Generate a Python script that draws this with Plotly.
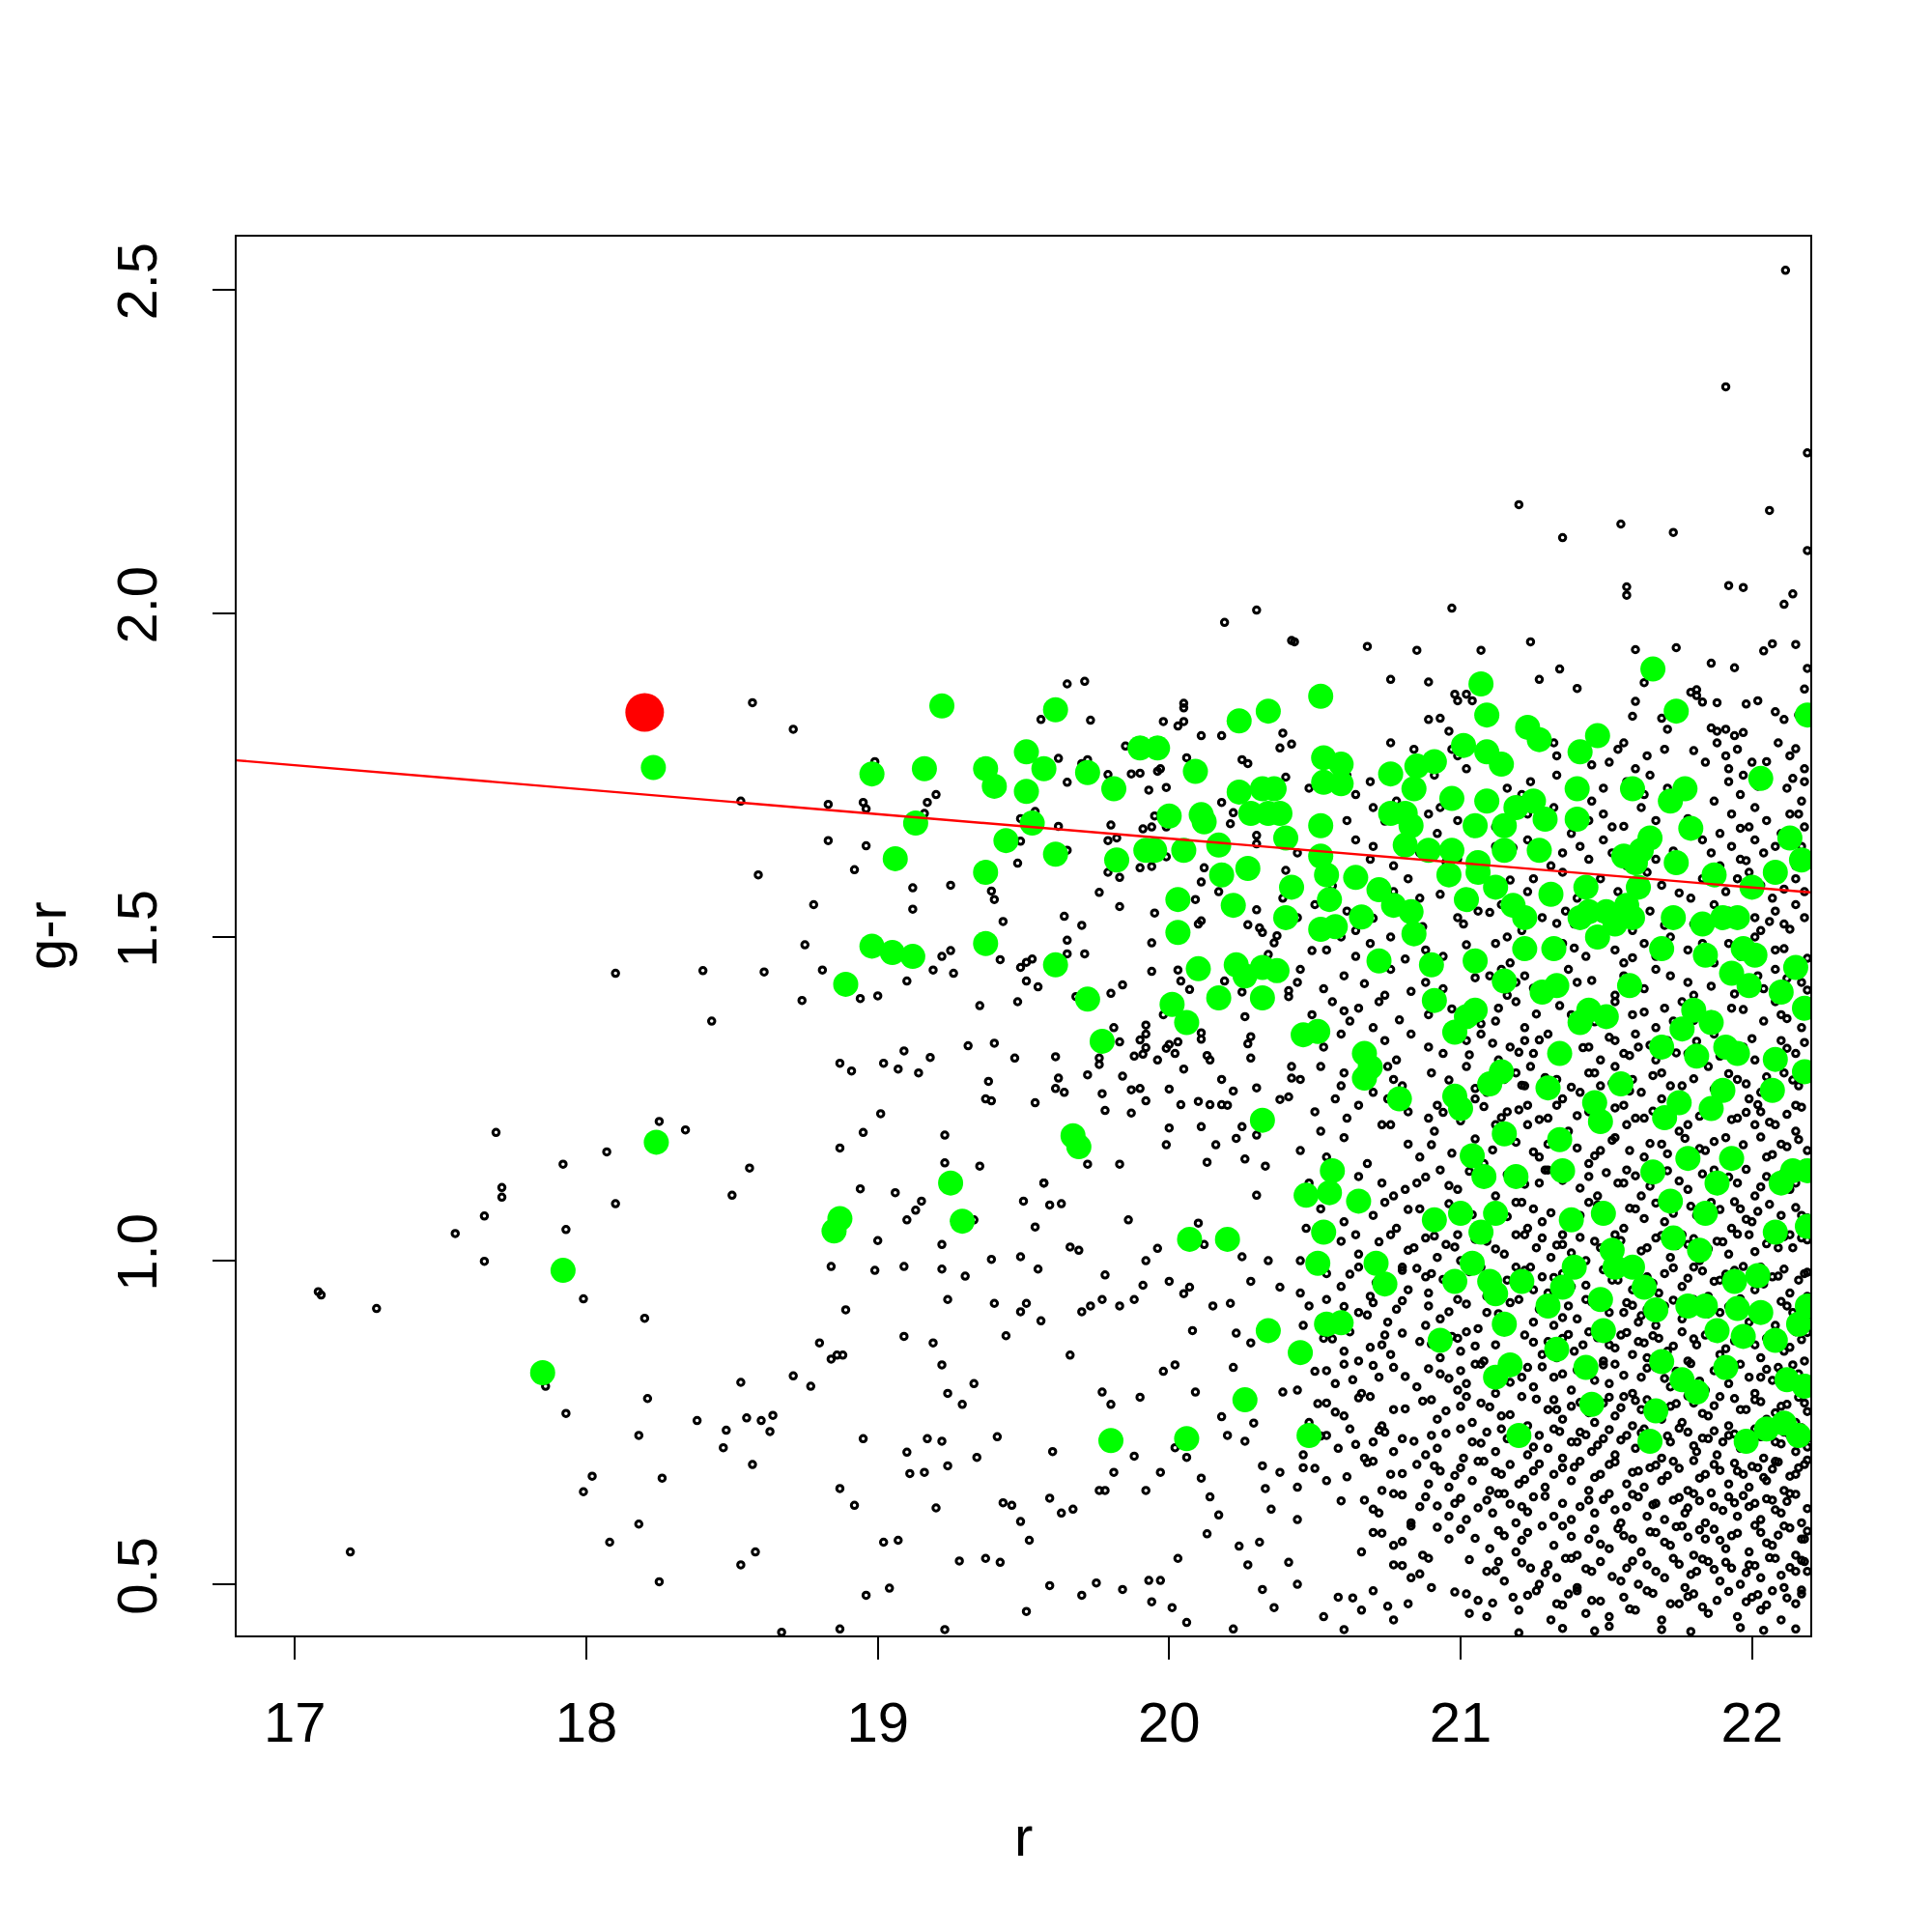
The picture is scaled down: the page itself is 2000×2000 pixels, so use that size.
import plotly.graph_objects as go

# ---------------- data ----------------
x_ticks = [17, 18, 19, 20, 21, 22]
y_ticks = [0.5, 1.0, 1.5, 2.0, 2.5]
y_tick_text = ["0.5", "1.0", "1.5", "2.0", "2.5"]

red_r = [18.20]
red_gr = [1.847]

fit_r = [16.8, 22.2]
fit_gr = [1.773, 1.569]

green_pts = [
(18.23,1.762),(18.24,1.183),(17.92,0.985),(17.85,0.827),
(18.98,1.752),(18.89,1.427),(18.98,1.486),(19.06,1.621),(19.05,1.476),(19.12,1.47),(19.13,1.676),(19.16,1.76),(19.22,1.857),(18.85,1.046),(18.87,1.065),(19.25,1.12),(19.29,1.061),
(19.37,1.76),(19.40,1.733),(19.37,1.60),(19.37,1.49),(19.44,1.649),(19.51,1.725),(19.51,1.786),(19.53,1.676),(19.57,1.76),(19.61,1.851),(19.61,1.628),(19.61,1.457),(19.67,1.193),(19.69,1.176),(19.72,1.754),(19.72,1.404),(19.77,1.339),(19.80,0.722),(19.81,1.729),(19.82,1.619),
(19.90,1.792),(19.96,1.792),(19.92,1.634),(19.95,1.634),(20.00,1.687),(20.03,1.558),(20.03,1.507),(20.01,1.396),(20.05,1.634),(20.06,1.368),(20.07,1.033),(20.06,0.725),(20.09,1.756),(20.10,1.451),(20.11,1.689),(20.12,1.678),(20.17,1.642),(20.18,1.596),(20.17,1.406),(20.20,1.033),(20.22,1.549),(20.24,1.834),(20.24,1.724),(20.23,1.457),(20.26,0.785),(20.27,1.606),(20.28,1.691),(20.26,1.44),(20.32,1.453),(20.37,1.448),(20.32,1.406),(20.32,1.217),(20.32,1.729),(20.34,1.849),(20.34,1.691),(20.36,1.729),(20.34,0.892),(20.38,1.691),(20.40,1.653),(20.40,1.530),(20.42,1.577),
(20.45,0.858),(20.46,1.349),(20.47,1.101),(20.48,0.73),(20.51,1.354),(20.51,0.996),(20.52,1.872),(20.52,1.672),(20.52,1.625),(20.52,1.512),(20.53,1.777),(20.53,1.739),(20.53,1.044),(20.54,1.596),(20.55,1.558),(20.55,1.105),(20.56,1.139),(20.54,0.902),(20.59,0.904),(20.57,1.516),(20.59,1.767),(20.59,1.737),(20.64,1.592),(20.65,1.092),(20.66,1.531),(20.67,1.32),(20.67,1.282),(20.69,1.299),(20.71,0.996),(20.72,1.573),(20.72,1.463),(20.74,0.964),(20.76,1.691),(20.76,1.752),(20.77,1.549),(20.79,1.25),(20.81,1.691),(20.81,1.642),(20.83,1.672),(20.83,1.539),(20.84,1.505),(20.84,1.729),(20.85,1.764),(20.89,1.634),
(20.90,1.457),(20.91,1.402),(20.91,1.063),(20.93,0.877),(20.91,1.771),(20.97,1.714),(20.97,1.634),(20.96,1.596),(20.98,1.353),(20.98,1.254),(20.98,0.968),(21.00,1.073),(21.00,1.235),(21.01,1.796),(21.02,1.558),(21.02,1.377),(21.04,0.996),(21.04,1.162),(21.05,1.672),(21.05,1.463),(21.05,1.387),(21.06,1.60),(21.06,1.615),(21.07,1.891),(21.07,1.044),(21.08,1.13),(21.09,1.843),(21.09,1.786),(21.09,1.71),(21.10,1.273),(21.10,0.968),(21.12,1.577),(21.12,1.073),(21.12,0.949),(21.12,0.82),(21.14,1.767),(21.14,1.292),(21.15,1.672),(21.15,1.634),(21.15,1.432),(21.15,1.196),(21.15,0.902),(21.17,0.839),(21.18,1.549),(21.19,1.70),(21.19,1.13),(21.20,0.73),(21.21,0.968),(21.22,1.53),(21.22,1.482),(21.23,1.824),(21.25,1.71),(21.27,1.805),(21.27,1.634),(21.28,1.415),(21.29,1.682),(21.30,1.267),(21.30,0.93),(21.31,1.566),(21.32,1.482),(21.33,0.863),(21.33,1.425),(21.34,1.32),(21.34,1.187),(21.35,1.139),(21.35,0.959),(21.38,1.063),(21.39,0.99),(21.40,1.729),(21.40,1.682),(21.41,1.786),(21.41,1.368),(21.41,1.53),(21.43,1.577),(21.43,0.835),(21.44,1.539),(21.44,1.387),(21.45,0.778),(21.46,1.244),(21.47,1.811),(21.47,1.50),(21.48,1.215),(21.48,0.94),(21.49,1.073),(21.49,0.892),(21.50,1.539),(21.50,1.377),(21.52,1.016),(21.53,1.52),(21.53,0.99),(21.55,1.273),(21.56,1.625),(21.57,1.549),(21.58,1.425),(21.59,0.99),(21.59,1.53),(21.59,1.729),(21.60,1.615),(21.61,1.577),(21.62,1.634),(21.63,0.959),(21.65,1.653),(21.66,1.914),(21.66,1.137),(21.67,0.768),(21.67,0.924),(21.65,0.721),(21.69,1.33),(21.69,1.482),(21.69,0.844),(21.70,1.221),(21.72,1.71),(21.72,1.092),(21.73,1.53),(21.73,1.035),(21.74,1.849),(21.74,1.615),(21.75,1.244),(21.76,1.358),(21.76,0.816),(21.77,1.729),(21.78,0.93),(21.78,1.158),(21.79,1.668),(21.80,1.387),(21.81,1.316),(21.81,0.797),(21.82,1.016),(21.83,1.52),(21.84,1.472),(21.84,1.073),(21.84,0.93),(21.86,1.235),(21.86,1.368),(21.87,1.596),(21.88,0.892),(21.88,1.12),(21.90,1.53),(21.90,1.263),(21.91,0.835),(21.91,1.33),(21.93,1.444),(21.93,1.158),(21.94,0.968),(21.95,1.32),(21.95,1.53),(21.95,0.926),(21.97,1.482),(21.97,0.883),(21.98,0.721),(21.99,1.425),(22.00,1.577),(22.01,1.472),(22.02,0.977),(22.03,0.92),(22.03,1.745),(22.05,0.74),(22.07,1.263),(22.08,1.311),(22.08,1.044),(22.08,0.877),(22.08,1.60),(22.10,1.415),(22.10,1.12),(22.11,0.749),(22.12,0.816),(22.13,1.653),(22.14,1.139),(22.15,1.453),(22.16,0.902),(22.16,0.73),(22.17,1.619),(22.18,1.39),(22.18,1.292),(22.18,0.806),(22.19,1.843),(22.19,1.139),(22.19,1.053),(22.19,0.93),
]

black_left = [
(17.08,0.952),(17.09,0.947),(17.19,0.55),(17.28,0.926),(17.55,1.042),(17.65,0.999),(17.65,1.069),(17.69,1.198),(17.71,1.113),(17.71,1.098),(17.92,1.149),(17.93,1.048),(17.93,0.764),(17.86,0.806),(17.99,0.941),(17.99,0.643),(18.02,0.667),(18.07,1.168),(18.08,0.565),(18.10,1.444),(18.10,1.088),(18.18,0.593),(18.18,0.73),(18.20,0.911),(18.21,0.787),(18.25,0.504),(18.25,1.215),(18.26,0.664),(18.34,1.202),(18.38,0.753),(18.40,1.448),(18.43,1.37),(18.47,0.711),(18.48,0.738),(18.50,1.101),(18.53,1.71),(18.53,0.812),(18.53,0.53),(18.55,0.757),(18.56,1.143),(18.57,1.862),(18.57,0.685),(18.58,0.55),(18.59,1.596),(18.60,0.753),(18.61,1.446),(18.63,0.736),
]

black_mid_low = [
(18.64,0.761),(18.67,0.426),(18.71,0.822),(18.77,0.806),(18.80,0.873),(18.84,0.848),(18.84,0.991),(18.86,0.854),(18.87,0.431),(18.87,0.648),(18.88,0.854),(18.89,0.924),(18.92,0.622),(18.94,1.111),(18.95,0.725),(18.96,0.483),(18.99,0.985),(19.00,1.031),(19.02,0.565),(19.04,0.494),(19.06,1.105),(19.07,0.568),(19.09,0.991),(19.09,0.883),(19.10,1.063),(19.10,0.704),(19.11,0.671),(19.13,1.078),(19.15,1.092),(19.16,0.673),(19.17,0.725),(19.19,0.873),(19.20,0.618),(19.22,1.025),(19.22,0.987),(19.22,0.839),(19.22,0.721),(19.23,0.430),(19.24,0.940),(19.24,0.795),(19.24,0.683),(19.28,0.536),(19.29,0.778),(19.30,0.976),(19.33,1.063),(19.33,0.810),(19.34,0.696),(19.37,0.540),(19.39,1.002),(19.40,0.934),(19.41,0.728),(19.42,0.534),(19.43,0.626),(19.44,0.884),(19.46,0.622),(19.49,0.597),(19.49,1.006),(19.49,0.921),(19.50,1.092),(19.51,0.934),(19.51,0.458),(19.52,0.568),(19.54,1.052),(19.55,0.987),(19.56,0.907),(19.57,1.12),(19.59,1.086),(19.59,0.498),(19.59,0.633),(19.60,0.705),(19.63,1.088),(19.63,0.610),(19.66,0.854),(19.66,1.021),(19.67,0.616),(19.69,1.016),(19.70,0.921),(19.70,0.483),(19.73,0.930),(19.75,0.502),(19.76,0.645),(19.77,0.797),(19.77,0.94),(19.78,0.645),(19.78,0.978),(19.80,0.778),(19.81,0.673),(19.83,0.930),(19.84,0.492),(19.86,1.063),(19.88,0.940),(19.88,0.698),(19.90,0.789),(19.91,0.962),(19.92,0.645),(19.92,1.0),(19.93,0.506),(19.94,0.473),(19.96,1.019),(19.97,0.673),(19.97,0.506),(19.98,0.829),(20.00,0.968),(20.01,0.464),(20.02,0.711),(20.02,0.839),(20.03,0.54),(20.05,0.949),(20.06,0.696),(20.06,0.441),(20.07,0.959),(20.08,0.892),(20.09,0.797),(20.10,1.058),(20.11,0.664),(20.12,1.025),(20.13,0.578),(20.14,0.635),(20.15,0.930),(20.17,0.607),(20.18,0.759),(20.20,0.730),(20.21,0.934),(20.22,0.431),(20.22,0.835),(20.23,0.888),(20.24,0.559),(20.25,1.006),(20.26,0.721),(20.27,0.530),(20.28,0.968),(20.28,0.873),(20.29,0.749),(20.30,1.101),(20.31,0.565),(20.32,0.492),(20.32,0.683),(20.33,0.648),(20.34,1.0),(20.35,0.616),(20.36,0.464),(20.38,0.959),(20.38,0.673),(20.39,0.797),(20.41,0.534),
]

black_mid_high = [
(18.71,1.821),(19.56,1.836),(19.73,1.835),(19.98,1.833),(20.03,1.826),(20.05,1.833),(20.05,1.854),(20.11,1.811),(20.18,1.811),(20.39,1.815),(20.38,1.792),(20.42,1.798),(19.85,1.795),(19.62,1.776),(19.70,1.768),(19.72,1.774),(19.79,1.751),(19.87,1.752),(19.90,1.753),(19.96,1.756),(19.97,1.760),(20.06,1.777),(20.25,1.774),(20.27,1.768),(20.40,1.747),(19.93,1.727),(19.99,1.731),(19.65,1.739),(18.99,1.771),(18.83,1.705),(18.95,1.708),(18.96,1.698),(19.17,1.708),(19.20,1.720),(19.16,1.691),(19.49,1.683),(19.54,1.694),(19.62,1.671),(19.80,1.673),(19.91,1.667),(19.94,1.670),(19.95,1.687),(19.99,1.670),(20.18,1.708),(20.22,1.692),(20.21,1.675),(20.30,1.657),(20.30,1.644),(19.79,1.649),(19.82,1.653),(19.49,1.648),(19.65,1.634),(18.83,1.649),(18.96,1.641),(19.99,1.624),(19.90,1.607),(19.94,1.609),(19.79,1.600),(19.83,1.592),(20.12,1.607),(20.11,1.585),(20.17,1.570),(20.40,1.603),(20.42,1.588),(19.48,1.614),(18.92,1.604),(19.12,1.576),(19.25,1.580),(19.39,1.571),(19.40,1.558),(19.76,1.569),(19.83,1.547),(20.09,1.558),(20.39,1.560),(18.78,1.550),(19.12,1.543),(19.43,1.524),(19.64,1.532),(19.70,1.518),(19.95,1.537),(20.10,1.520),(20.11,1.525),(20.27,1.519),(20.30,1.542),(20.31,1.514),(20.32,1.507),(20.37,1.502),(20.36,1.491),(19.94,1.491),(19.65,1.495),(18.75,1.488),(19.25,1.479),(19.22,1.470),(19.42,1.465),(19.49,1.453),(19.51,1.461),(19.53,1.466),(19.65,1.474),(19.71,1.474),(20.34,1.473),(18.81,1.449),(19.19,1.449),(19.26,1.444),(19.10,1.432),(19.51,1.432),(19.55,1.423),(19.84,1.426),(19.80,1.413),(19.94,1.447),(20.03,1.449),(20.04,1.432),(20.07,1.419),(20.19,1.432),(20.25,1.415),(20.41,1.417),(20.41,1.408),(18.74,1.402),(18.94,1.405),(19.00,1.409),(19.35,1.394),(19.48,1.400),(19.68,1.408),(20.26,1.377),(19.98,1.380),(19.81,1.360),(19.92,1.364),(19.92,1.350),(19.90,1.341),(19.83,1.338),(20.00,1.334),(19.99,1.328),(20.03,1.338),(20.02,1.320),(19.92,1.329),(19.91,1.319),(19.88,1.316),(19.96,1.310),(20.05,1.296),(20.11,1.352),(20.11,1.342),(20.13,1.317),(20.14,1.310),(20.28,1.346),(20.27,1.335),(20.28,1.313),(20.42,1.300),(20.42,1.282),(18.87,1.305),(18.91,1.293),(19.02,1.305),(19.07,1.296),(19.09,1.324),(19.14,1.290),(19.18,1.314),(19.31,1.332),(19.40,1.336),(19.47,1.313),(19.61,1.315),(19.76,1.313),(19.76,1.303),(19.72,1.287),(19.84,1.285),(19.62,1.282),(19.61,1.266),(19.64,1.260),(19.38,1.277),(19.37,1.250),(19.39,1.247),(19.54,1.244),(19.77,1.258),(19.78,1.232),(19.87,1.228),(19.87,1.264),(19.90,1.266),(19.92,1.247),(20.00,1.265),(20.04,1.241),(20.10,1.246),(20.14,1.241),(20.18,1.241),(20.20,1.240),(20.18,1.280),(20.22,1.262),(20.30,1.267),(20.38,1.249),(20.41,1.253),(19.01,1.227),(18.95,1.198),(18.87,1.174),(19.23,1.194),(19.23,1.151),(19.35,1.146),(19.72,1.149),(19.83,1.149),(19.99,1.179),(20.00,1.205),(20.11,1.207),(20.16,1.179),(20.23,1.189),(20.25,1.207),(20.30,1.194),(20.26,1.157),(20.33,1.146),(20.13,1.152),(19.57,1.12),
]

black_top = [
(19.65,1.891),(19.71,1.895),(20.19,1.986),(20.30,2.005),(20.42,1.958),(20.05,1.861),
(22.115,2.530),(21.91,2.350),(22.19,2.248),(21.20,2.168),(21.35,2.117),(21.55,2.138),(21.73,2.125),(22.06,2.159),(22.19,2.097),(20.97,2.008),(21.57,2.041),(21.57,2.028),(21.92,2.043),(21.97,2.040),(22.14,2.030),(22.11,2.014),(20.43,1.956),(20.68,1.949),(20.85,1.943),(21.07,1.943),(21.24,1.956),(21.60,1.944),(21.74,1.947),(22.04,1.942),(22.07,1.953),(22.15,1.952),(21.86,1.923),(21.94,1.916),(22.19,1.915),(20.76,1.898),(20.89,1.894),(21.27,1.898),(21.34,1.914),(21.40,1.884),(21.63,1.893),(22.18,1.883),(20.98,1.875),(21.02,1.875),(20.99,1.865),(21.04,1.865),(21.79,1.878),(21.81,1.882),(21.81,1.873),(21.60,1.864),(21.83,1.863),(21.88,1.862),(21.98,1.860),(22.02,1.865),
]

black_dense_high = [
(20.89,1.836),(20.93,1.838),(20.96,1.818),(21.59,1.841),(21.69,1.838),(21.71,1.821),(21.86,1.823),(21.88,1.818),(21.91,1.821),(21.94,1.811),(21.97,1.816),(22.08,1.848),(22.11,1.836),(22.16,1.843),(22.19,1.836),
(20.76,1.80),(20.84,1.79),(20.86,1.77),(20.97,1.79),(20.99,1.78),(21.02,1.76),(21.32,1.80),(21.33,1.78),(21.51,1.77),(21.54,1.79),(21.56,1.80),(21.60,1.76),(21.64,1.78),(21.70,1.79),(21.84,1.77),(21.88,1.80),(21.91,1.78),(21.92,1.76),(21.95,1.79),(22.00,1.77),(22.09,1.80),(22.13,1.78),(22.18,1.76),
(20.48,1.73),(20.61,1.75),(20.64,1.72),(20.69,1.74),(20.78,1.71),(20.91,1.75),(21.16,1.73),(21.21,1.72),(21.24,1.74),(21.33,1.75),(21.45,1.71),(21.49,1.73),(21.57,1.74),(21.63,1.72),(21.65,1.75),(21.71,1.73),(21.87,1.71),(21.92,1.74),(21.96,1.72),(21.97,1.75),(22.12,1.73),(22.17,1.71),(22.18,1.74),
(20.61,1.68),(20.70,1.70),(20.81,1.67),(20.89,1.69),(20.92,1.66),(20.93,1.70),(20.99,1.68),(21.12,1.67),(21.23,1.69),(21.32,1.70),(21.38,1.66),(21.44,1.68),(21.49,1.69),(21.52,1.67),(21.62,1.70),(21.67,1.68),(21.89,1.66),(21.93,1.69),(21.99,1.67),(22.01,1.70),(22.05,1.68),(22.10,1.66),(22.13,1.69),(22.18,1.67),
(20.44,1.63),(20.64,1.65),(20.69,1.62),(20.70,1.64),(20.77,1.61),(20.83,1.65),(20.86,1.63),(20.99,1.62),(21.12,1.64),(21.23,1.65),(21.31,1.61),(21.35,1.63),(21.41,1.64),(21.44,1.62),(21.49,1.65),(21.52,1.63),(21.57,1.61),(21.64,1.64),(21.67,1.62),(21.83,1.65),(21.86,1.63),(21.89,1.61),(21.93,1.64),(21.96,1.62),(22.01,1.65),(22.04,1.63),(22.15,1.61),(22.17,1.64),
(20.43,1.58),(20.65,1.60),(20.77,1.57),(20.82,1.59),(20.86,1.56),(21.04,1.60),(21.12,1.58),(21.23,1.57),(21.25,1.59),(21.35,1.60),(21.40,1.56),(21.44,1.58),(21.48,1.59),(21.54,1.57),(21.64,1.60),(21.69,1.58),(21.79,1.56),(21.83,1.59),(21.91,1.57),(21.99,1.60),(22.03,1.58),(22.07,1.56),(22.15,1.59),(22.18,1.57),
(20.44,1.53),(20.50,1.55),(20.57,1.52),(20.61,1.54),(20.64,1.51),(20.76,1.55),(20.99,1.53),(21.01,1.52),(21.06,1.54),(21.14,1.55),(21.21,1.51),(21.28,1.53),(21.36,1.54),(21.39,1.52),(21.43,1.55),(21.48,1.53),(21.59,1.51),(21.65,1.54),(21.80,1.52),(21.87,1.55),(22.01,1.53),(22.03,1.51),(22.08,1.54),(22.11,1.52),(22.15,1.55),(22.18,1.53),
(20.54,1.48),(20.59,1.50),(20.64,1.47),(20.69,1.49),(20.73,1.46),(20.76,1.50),(20.88,1.48),(20.94,1.47),(21.12,1.49),(21.16,1.50),(21.17,1.46),(21.30,1.48),(21.35,1.49),(21.43,1.47),(21.49,1.50),(21.53,1.48),(21.56,1.46),(21.63,1.49),(21.67,1.47),(21.72,1.50),(21.78,1.48),(21.87,1.46),(21.92,1.49),(21.96,1.47),(22.01,1.50),(22.08,1.48),(22.15,1.46),
(20.44,1.43),(20.45,1.45),(20.53,1.42),(20.60,1.44),(20.74,1.41),(20.76,1.45),(20.88,1.43),(20.94,1.42),(21.10,1.44),(21.14,1.45),(21.16,1.41),(21.19,1.43),(21.22,1.44),(21.30,1.42),(21.37,1.45),(21.40,1.43),(21.53,1.41),(21.56,1.44),(21.63,1.42),(21.67,1.45),(21.78,1.43),(21.80,1.41),(22.02,1.44),(22.04,1.42),(22.08,1.45),(22.17,1.43),
(20.49,1.38),(20.56,1.40),(20.62,1.37),(20.65,1.39),(20.70,1.36),(20.72,1.40),(20.89,1.38),(21.12,1.37),(21.13,1.39),(21.19,1.40),(21.22,1.36),(21.38,1.38),(21.43,1.39),(21.49,1.37),(21.53,1.40),(21.59,1.38),(21.67,1.36),(21.70,1.39),(21.73,1.37),(21.76,1.40),(21.86,1.38),(21.88,1.36),(21.93,1.39),(22.04,1.37),(22.08,1.40),(22.10,1.38),(22.17,1.36),
(20.53,1.33),(20.59,1.35),(20.67,1.32),(20.74,1.34),(20.78,1.31),(20.83,1.35),(20.89,1.33),(20.94,1.32),(21.02,1.34),(21.07,1.35),(21.13,1.31),(21.17,1.33),(21.22,1.34),(21.25,1.32),(21.30,1.35),(21.44,1.33),(21.48,1.31),(21.53,1.34),(21.56,1.32),(21.60,1.35),(21.61,1.33),(21.67,1.31),(21.71,1.34),(21.78,1.32),(21.87,1.35),(21.97,1.33),(22.01,1.31),(22.10,1.34),(22.15,1.32),
(20.45,1.28),(20.52,1.30),(20.59,1.27),(20.60,1.29),(20.70,1.26),(20.75,1.30),(20.77,1.28),(20.80,1.27),(20.90,1.29),(21.02,1.30),(21.09,1.26),(21.15,1.28),(21.19,1.29),(21.22,1.27),(21.24,1.30),(21.33,1.28),(21.41,1.26),(21.44,1.29),(21.48,1.27),(21.53,1.30),(21.59,1.28),(21.62,1.26),(21.69,1.29),(21.76,1.27),(21.85,1.30),(21.95,1.28),(22.03,1.26),(22.11,1.29),(22.16,1.27),
(20.50,1.23),(20.57,1.25),(20.61,1.22),(20.65,1.24),(20.73,1.21),(20.75,1.25),(20.82,1.23),(20.89,1.22),(20.92,1.24),(21.05,1.25),(21.12,1.21),(21.16,1.23),(21.23,1.24),(21.30,1.22),(21.35,1.25),(21.44,1.23),(21.49,1.21),(21.56,1.24),(21.63,1.22),(21.69,1.25),(21.73,1.23),(21.78,1.21),(21.85,1.24),(21.95,1.22),(21.99,1.25),(22.03,1.23),(22.08,1.21),(22.15,1.24),
(20.45,1.17),(20.52,1.20),(20.54,1.16),(20.60,1.19),(20.68,1.15),(20.76,1.21),(20.82,1.18),(20.86,1.16),(20.91,1.20),(21.02,1.17),(21.08,1.15),(21.15,1.19),(21.23,1.21),(21.27,1.16),(21.30,1.18),(21.37,1.20),(21.44,1.15),(21.48,1.17),(21.53,1.19),(21.57,1.21),(21.63,1.16),(21.69,1.18),(21.75,1.20),(21.79,1.15),(21.84,1.17),(21.91,1.19),(22.01,1.21),(22.05,1.16),(22.10,1.18),(22.15,1.20),(22.18,1.15),
(20.60,1.386),(20.79,1.372),(20.97,1.389),(21.07,1.366),(21.26,1.381),(21.34,1.394),(21.46,1.369),(21.63,1.384),(21.80,1.371),(21.97,1.388),(22.12,1.374),(22.19,1.392),
(20.67,1.428),(20.83,1.416),(21.05,1.437),(21.25,1.421),(21.45,1.433),(21.60,1.419),(21.72,1.440),(21.86,1.424),(21.94,1.412),(22.12,1.436),(22.19,1.418),
(20.49,1.479),(20.81,1.466),(21.02,1.488),(21.21,1.471),(21.39,1.483),(21.59,1.468),(21.83,1.490),(21.99,1.474),(22.11,1.482),(22.19,1.467),
(20.70,1.529),(20.87,1.516),(21.10,1.538),(21.33,1.521),(21.55,1.533),(21.70,1.518),(21.92,1.540),(22.06,1.524),(22.13,1.512),
(20.56,1.579),(20.93,1.566),(21.17,1.588),(21.30,1.571),(21.60,1.583),(21.75,1.568),(21.95,1.590),(22.11,1.574),
(20.53,1.629),(20.95,1.616),(21.18,1.638),(21.54,1.621),(21.73,1.633),(21.98,1.618),(22.08,1.640),(22.19,1.624),
(20.74,1.679),(21.05,1.666),(21.28,1.688),(21.56,1.671),(21.78,1.683),(21.96,1.668),(22.16,1.690),
(20.84,1.729),(21.09,1.716),(21.40,1.738),(21.77,1.721),(22.02,1.733),(22.14,1.745),
(21.07,1.779),(21.45,1.766),(21.80,1.788),(22.05,1.771),(22.15,1.791),
]

black_dense_low = [
(20.48,1.12),(20.65,1.13),(20.66,1.10),(20.73,1.12),(20.77,1.10),(20.81,1.11),(20.85,1.12),(20.93,1.14),(20.99,1.11),(21.06,1.13),(21.12,1.10),(21.27,1.12),(21.30,1.14),(21.44,1.13),(21.47,1.10),(21.56,1.12),(21.57,1.14),(21.62,1.10),(21.67,1.13),(21.78,1.11),(21.87,1.14),(21.95,1.12),(22.01,1.10),(22.05,1.13),(22.13,1.11),(22.17,1.14),
(20.47,1.05),(20.52,1.08),(20.60,1.06),(20.64,1.04),(20.70,1.07),(20.74,1.09),(20.78,1.05),(20.86,1.08),(20.93,1.06),(20.99,1.04),(21.10,1.07),(21.19,1.09),(21.23,1.05),(21.25,1.08),(21.28,1.06),(21.35,1.04),(21.41,1.07),(21.44,1.09),(21.56,1.05),(21.60,1.08),(21.70,1.06),(21.76,1.04),(21.81,1.07),(21.86,1.09),(21.93,1.05),(21.96,1.08),(22.00,1.06),(22.13,1.04),(22.17,1.07),
(20.45,1.00),(20.59,1.03),(20.65,1.01),(20.76,1.04),(20.80,0.99),(20.84,1.02),(20.88,1.035),(20.92,1.005),(20.95,1.025),(21.00,1.00),(21.09,1.03),(21.15,1.01),(21.19,1.04),(21.24,0.99),(21.26,1.02),(21.28,1.035),(21.31,1.005),(21.35,1.025),(21.43,1.00),(21.46,1.03),(21.51,1.01),(21.53,1.04),(21.59,0.99),(21.64,1.02),(21.67,1.035),(21.72,1.005),(21.78,1.025),(21.82,1.00),(21.88,1.03),(21.92,1.01),(21.99,1.04),(22.03,0.99),(22.09,1.02),(22.17,1.035),
(20.45,0.95),(20.54,0.98),(20.59,0.96),(20.65,0.99),(20.69,0.945),(20.74,0.97),(20.80,0.985),(20.82,0.955),(20.88,0.975),(20.89,0.95),(20.90,0.98),(20.99,0.96),(21.07,0.99),(21.09,0.945),(21.16,0.97),(21.22,0.985),(21.25,0.955),(21.28,0.975),(21.30,0.95),(21.35,0.98),(21.38,0.96),(21.41,0.99),(21.47,0.945),(21.52,0.97),(21.56,0.985),(21.59,0.955),(21.64,0.975),(21.68,0.95),(21.70,0.98),(21.76,0.96),(21.80,0.99),(21.85,0.945),(21.89,0.97),(21.94,0.985),(22.01,0.955),(22.07,0.975),(22.13,0.95),(22.18,0.98),
(20.46,0.90),(20.48,0.93),(20.52,0.91),(20.54,0.94),(20.58,0.895),(20.65,0.92),(20.70,0.935),(20.75,0.905),(20.78,0.925),(20.88,0.90),(20.89,0.93),(20.93,0.91),(20.99,0.94),(21.06,0.895),(21.09,0.92),(21.17,0.935),(21.25,0.905),(21.27,0.925),(21.32,0.90),(21.37,0.93),(21.40,0.91),(21.43,0.94),(21.48,0.895),(21.56,0.92),(21.57,0.935),(21.61,0.905),(21.64,0.925),(21.67,0.90),(21.70,0.93),(21.76,0.91),(21.80,0.94),(21.87,0.895),(21.89,0.92),(21.94,0.935),(21.99,0.905),(22.03,0.925),(22.08,0.90),(22.12,0.93),(22.19,0.91),
(20.44,0.85),(20.53,0.88),(20.60,0.86),(20.62,0.89),(20.65,0.845),(20.73,0.87),(20.74,0.885),(20.76,0.855),(20.86,0.875),(20.93,0.85),(20.99,0.88),(21.00,0.86),(21.02,0.89),(21.08,0.845),(21.12,0.87),(21.22,0.885),(21.28,0.855),(21.30,0.875),(21.33,0.85),(21.35,0.88),(21.39,0.86),(21.44,0.89),(21.49,0.845),(21.51,0.87),(21.55,0.885),(21.59,0.855),(21.61,0.875),(21.64,0.85),(21.68,0.88),(21.71,0.86),(21.76,0.89),(21.78,0.845),(21.81,0.87),(21.84,0.885),(21.89,0.855),(21.97,0.875),(22.03,0.85),(22.05,0.88),(22.11,0.86),(22.15,0.89),(22.18,0.845),
(20.44,0.80),(20.54,0.83),(20.57,0.81),(20.60,0.84),(20.66,0.795),(20.72,0.82),(20.77,0.835),(20.85,0.805),(20.93,0.825),(20.99,0.80),(21.00,0.83),(21.02,0.81),(21.07,0.84),(21.12,0.795),(21.21,0.82),(21.23,0.835),(21.25,0.805),(21.35,0.825),(21.38,0.80),(21.43,0.83),(21.51,0.81),(21.53,0.84),(21.59,0.795),(21.62,0.82),(21.67,0.835),(21.72,0.805),(21.76,0.825),(21.84,0.80),(21.87,0.83),(21.92,0.81),(21.96,0.84),(22.01,0.795),(22.03,0.82),(22.09,0.835),(22.12,0.805),(22.16,0.825),
(20.48,0.75),(20.54,0.78),(20.60,0.76),(20.69,0.79),(20.73,0.745),(20.77,0.77),(20.90,0.785),(20.92,0.755),(21.00,0.775),(21.04,0.75),(21.07,0.78),(21.14,0.76),(21.21,0.79),(21.23,0.745),(21.30,0.77),(21.32,0.785),(21.35,0.755),(21.38,0.775),(21.46,0.75),(21.49,0.78),(21.53,0.76),(21.56,0.79),(21.59,0.745),(21.62,0.77),(21.64,0.785),(21.69,0.755),(21.72,0.775),(21.76,0.75),(21.80,0.78),(21.85,0.76),(21.89,0.79),(21.92,0.745),(21.96,0.77),(22.01,0.785),(22.05,0.755),(22.10,0.775),(22.15,0.75),(22.18,0.78),
(20.46,0.70),(20.54,0.73),(20.58,0.71),(20.62,0.74),(20.67,0.695),(20.70,0.72),(20.74,0.735),(20.77,0.705),(20.80,0.725),(20.88,0.70),(20.90,0.73),(20.92,0.71),(21.00,0.74),(21.01,0.695),(21.04,0.72),(21.09,0.735),(21.12,0.705),(21.16,0.725),(21.23,0.70),(21.27,0.73),(21.30,0.71),(21.32,0.74),(21.35,0.695),(21.38,0.72),(21.41,0.735),(21.45,0.705),(21.49,0.725),(21.53,0.70),(21.57,0.73),(21.60,0.71),(21.63,0.74),(21.69,0.695),(21.72,0.72),(21.78,0.735),(21.81,0.705),(21.85,0.725),(21.88,0.70),(21.92,0.73),(21.96,0.71),(22.01,0.74),(22.04,0.695),(22.08,0.72),(22.11,0.735),(22.15,0.705),(22.19,0.725),
(20.44,0.65),(20.46,0.68),(20.54,0.66),(20.70,0.69),(20.73,0.645),(20.76,0.67),(20.85,0.685),(20.89,0.655),(20.93,0.675),(20.96,0.65),(21.00,0.68),(21.04,0.66),(21.06,0.69),(21.10,0.645),(21.14,0.67),(21.17,0.685),(21.20,0.655),(21.25,0.675),(21.29,0.65),(21.35,0.68),(21.38,0.66),(21.41,0.69),(21.44,0.645),(21.48,0.67),(21.51,0.685),(21.57,0.655),(21.61,0.675),(21.63,0.65),(21.65,0.68),(21.69,0.66),(21.73,0.69),(21.78,0.645),(21.84,0.67),(21.87,0.685),(21.92,0.655),(21.95,0.675),(21.99,0.65),(22.02,0.68),(22.05,0.66),(22.08,0.69),(22.11,0.645),(22.15,0.67),(22.18,0.685),
(20.44,0.60),(20.67,0.63),(20.72,0.61),(20.77,0.64),(20.83,0.595),(20.86,0.62),(20.88,0.635),(20.96,0.605),(20.98,0.625),(21.02,0.60),(21.09,0.63),(21.11,0.61),(21.15,0.64),(21.19,0.595),(21.21,0.62),(21.25,0.635),(21.32,0.605),(21.35,0.625),(21.38,0.60),(21.44,0.63),(21.46,0.61),(21.51,0.64),(21.55,0.595),(21.57,0.62),(21.61,0.635),(21.64,0.605),(21.67,0.625),(21.70,0.60),(21.73,0.63),(21.77,0.61),(21.80,0.64),(21.84,0.595),(21.87,0.62),(21.92,0.635),(21.95,0.605),(22.01,0.625),(22.03,0.60),(22.07,0.63),(22.10,0.61),(22.13,0.64),(22.17,0.595),
(20.66,0.55),(20.70,0.58),(20.77,0.56),(20.83,0.59),(20.87,0.545),(20.96,0.57),(21.00,0.585),(21.10,0.555),(21.15,0.575),(21.19,0.55),(21.23,0.58),(21.32,0.56),(21.35,0.59),(21.40,0.545),(21.44,0.57),(21.46,0.585),(21.51,0.555),(21.56,0.575),(21.62,0.55),(21.67,0.58),(21.72,0.56),(21.76,0.59),(21.80,0.545),(21.84,0.57),(21.87,0.585),(21.91,0.555),(21.93,0.575),(21.99,0.55),(22.03,0.58),(22.07,0.56),(22.11,0.59),(22.15,0.545),(22.18,0.57),
(20.44,0.50),(20.77,0.53),(20.83,0.51),(20.89,0.54),(20.90,0.495),(21.09,0.52),(21.13,0.535),(21.15,0.505),(21.24,0.525),(21.27,0.50),(21.30,0.53),(21.33,0.51),(21.36,0.54),(21.40,0.495),(21.45,0.52),(21.48,0.535),(21.55,0.505),(21.57,0.525),(21.61,0.50),(21.64,0.53),(21.70,0.51),(21.73,0.54),(21.77,0.495),(21.81,0.52),(21.85,0.535),(21.89,0.505),(21.93,0.525),(21.96,0.50),(21.99,0.53),(22.03,0.51),(22.08,0.54),(22.11,0.495),(22.15,0.52),(22.18,0.535),
(20.53,0.45),(20.58,0.48),(20.66,0.46),(20.70,0.49),(20.77,0.445),(20.82,0.47),(21.02,0.485),(21.03,0.455),(21.06,0.475),(21.09,0.45),(21.18,0.48),(21.20,0.46),(21.26,0.49),(21.31,0.445),(21.33,0.47),(21.37,0.485),(21.43,0.455),(21.45,0.475),(21.51,0.45),(21.56,0.48),(21.60,0.46),(21.64,0.49),(21.69,0.445),(21.75,0.47),(21.80,0.485),(21.85,0.455),(21.88,0.475),(21.95,0.45),(22.00,0.48),(22.03,0.46),(22.07,0.49),(22.10,0.445),(22.15,0.47),(22.17,0.485),
(20.60,0.43),(21.20,0.425),(21.35,0.432),(21.46,0.428),(21.51,0.435),(21.69,0.43),(21.79,0.427),(21.96,0.433),(22.04,0.429),(22.15,0.431),
]

black_dense_extra = [
(21.03,1.318),(21.11,1.336),(21.20,1.322),(21.27,1.341),(21.36,1.314),(21.42,1.329),(21.51,1.345),(21.58,1.317),(21.65,1.333),(21.74,1.321),(21.81,1.339),(21.89,1.316),(21.94,1.330),(22.00,1.343),(22.06,1.318),(22.12,1.328),(22.18,1.337),
(20.96,1.279),(21.05,1.266),(21.13,1.288),(21.21,1.271),(21.29,1.283),(21.38,1.268),(21.46,1.290),(21.52,1.274),(21.58,1.262),(21.66,1.286),(21.72,1.270),(21.80,1.281),(21.87,1.265),(21.92,1.289),(21.98,1.273),(22.05,1.284),(22.09,1.268),(22.14,1.279),(22.19,1.291),
(20.94,1.229),(21.00,1.216),(21.08,1.238),(21.14,1.221),(21.20,1.233),(21.27,1.218),(21.33,1.240),(21.40,1.224),(21.47,1.212),(21.53,1.236),(21.60,1.220),(21.66,1.231),(21.72,1.215),(21.76,1.239),(21.82,1.223),(21.88,1.234),(21.93,1.218),(21.98,1.229),(22.02,1.241),(22.06,1.214),(22.12,1.226),(22.17,1.237),
(20.90,1.179),(20.97,1.166),(21.05,1.188),(21.11,1.171),(21.19,1.183),(21.25,1.168),(21.33,1.190),(21.40,1.174),(21.46,1.162),(21.52,1.186),(21.58,1.170),(21.65,1.181),(21.71,1.165),(21.77,1.189),(21.82,1.173),(21.87,1.184),(21.93,1.168),(21.97,1.179),(22.03,1.191),(22.07,1.164),(22.12,1.176),(22.16,1.187),(22.19,1.170),
(20.88,1.129),(20.96,1.116),(21.03,1.138),(21.09,1.121),(21.16,1.133),(21.22,1.118),(21.29,1.140),(21.35,1.124),(21.41,1.112),(21.50,1.136),(21.54,1.120),(21.60,1.131),(21.65,1.115),(21.71,1.139),(21.75,1.123),(21.83,1.134),(21.89,1.118),(21.92,1.129),(21.98,1.141),(22.03,1.114),(22.08,1.126),(22.11,1.137),(22.15,1.120),(22.19,1.132),
(20.82,1.079),(20.90,1.066),(20.96,1.088),(21.04,1.071),(21.13,1.083),(21.16,1.068),(21.21,1.090),(21.31,1.074),(21.38,1.062),(21.47,1.086),(21.51,1.070),(21.58,1.081),(21.63,1.065),(21.67,1.089),(21.73,1.073),(21.79,1.084),(21.84,1.068),(21.89,1.079),(21.94,1.091),(21.98,1.064),(22.02,1.076),(22.06,1.087),(22.10,1.070),(22.15,1.082),(22.19,1.066),
(20.72,1.029),(20.82,1.016),(20.91,1.038),(20.98,1.021),(21.05,1.033),(21.12,1.018),(21.22,1.040),(21.33,1.024),(21.38,1.012),(21.41,1.036),(21.48,1.020),(21.55,1.031),(21.62,1.015),(21.69,1.039),(21.74,1.023),(21.80,1.034),(21.85,1.018),(21.90,1.029),(21.95,1.041),(22.01,1.014),(22.05,1.026),(22.11,1.037),(22.14,1.020),(22.19,1.032),
(20.62,0.979),(20.71,0.966),(20.85,0.988),(20.94,0.971),(21.03,0.983),(21.12,0.968),(21.19,0.990),(21.32,0.974),(21.43,0.962),(21.49,0.986),(21.54,0.970),(21.61,0.981),(21.66,0.965),(21.73,0.989),(21.78,0.973),(21.83,0.984),(21.87,0.968),(21.91,0.979),(21.97,0.991),(22.04,0.964),(22.09,0.976),(22.11,0.987),(22.16,0.970),(22.19,0.982),
(20.60,0.929),(20.68,0.916),(20.80,0.938),(20.96,0.921),(21.02,0.933),(21.13,0.918),(21.20,0.940),(21.29,0.924),(21.35,0.912),(21.45,0.936),(21.51,0.920),(21.59,0.931),(21.62,0.915),(21.73,0.939),(21.78,0.923),(21.83,0.934),(21.85,0.918),(21.92,0.929),(21.96,0.941),(22.01,0.914),(22.05,0.926),(22.10,0.937),(22.14,0.920),(22.17,0.932),(22.19,0.945),
(20.56,0.879),(20.69,0.866),(20.80,0.888),(20.90,0.871),(20.97,0.883),(21.05,0.868),(21.15,0.890),(21.25,0.874),(21.31,0.862),(21.37,0.886),(21.42,0.870),(21.47,0.881),(21.53,0.865),(21.57,0.889),(21.63,0.873),(21.66,0.884),(21.73,0.868),(21.80,0.879),(21.86,0.891),(21.91,0.864),(21.94,0.876),(21.99,0.887),(22.01,0.870),(22.07,0.882),(22.13,0.866),(22.17,0.878),(22.19,0.889),
(20.50,0.829),(20.63,0.816),(20.70,0.838),(20.81,0.821),(20.89,0.833),(20.96,0.818),(21.05,0.840),(21.10,0.824),(21.17,0.812),(21.28,0.836),(21.32,0.820),(21.40,0.831),(21.46,0.815),(21.49,0.839),(21.56,0.823),(21.64,0.834),(21.70,0.818),(21.74,0.829),(21.79,0.841),(21.82,0.814),(21.90,0.826),(21.94,0.837),(21.99,0.820),(22.05,0.832),(22.07,0.815),(22.10,0.828),(22.14,0.839),(22.18,0.817),
(20.51,0.779),(20.57,0.766),(20.65,0.788),(20.81,0.771),(20.87,0.783),(20.95,0.768),(21.02,0.790),(21.10,0.774),(21.17,0.762),(21.26,0.786),(21.33,0.770),(21.41,0.781),(21.44,0.765),(21.51,0.789),(21.55,0.773),(21.60,0.784),(21.67,0.768),(21.74,0.779),(21.78,0.791),(21.83,0.764),(21.87,0.776),(21.94,0.787),(21.98,0.770),(22.03,0.782),(22.08,0.765),(22.12,0.778),(22.16,0.789),(22.19,0.767),
(20.52,0.729),(20.64,0.716),(20.72,0.738),(20.84,0.721),(20.95,0.733),(21.07,0.718),(21.14,0.740),(21.19,0.724),(21.25,0.712),(21.34,0.736),(21.40,0.720),(21.43,0.731),(21.47,0.715),(21.51,0.739),(21.55,0.723),(21.62,0.734),(21.66,0.718),(21.71,0.729),(21.75,0.741),(21.80,0.714),(21.83,0.726),(21.87,0.737),(21.90,0.720),(21.94,0.732),(21.99,0.715),(22.03,0.728),(22.06,0.739),(22.10,0.717),(22.13,0.730),(22.17,0.742),(22.19,0.712),
(20.50,0.679),(20.61,0.666),(20.68,0.688),(20.80,0.671),(20.91,0.683),(20.98,0.668),(21.08,0.690),(21.12,0.674),(21.22,0.662),(21.27,0.686),(21.32,0.670),(21.39,0.681),(21.46,0.665),(21.53,0.689),(21.59,0.673),(21.67,0.684),(21.71,0.668),(21.75,0.679),(21.80,0.691),(21.82,0.664),(21.89,0.676),(21.94,0.687),(21.97,0.670),(22.00,0.682),(22.04,0.665),(22.07,0.678),(22.09,0.689),(22.13,0.667),(22.16,0.680),(22.19,0.692),
(20.59,0.629),(20.70,0.616),(20.80,0.638),(20.92,0.621),(21.00,0.633),(21.06,0.618),(21.13,0.640),(21.17,0.624),(21.23,0.612),(21.29,0.636),(21.41,0.620),(21.49,0.631),(21.53,0.615),(21.59,0.639),(21.66,0.623),(21.75,0.634),(21.78,0.618),(21.82,0.629),(21.86,0.641),(21.90,0.614),(21.94,0.626),(21.97,0.637),(21.99,0.620),(22.05,0.632),(22.08,0.615),(22.12,0.628),(22.15,0.639),(22.19,0.617),
(20.73,0.579),(20.80,0.566),(20.92,0.588),(21.05,0.571),(21.13,0.583),(21.21,0.568),(21.28,0.590),(21.38,0.574),(21.48,0.562),(21.54,0.586),(21.59,0.570),(21.65,0.581),(21.70,0.565),(21.74,0.589),(21.78,0.573),(21.82,0.584),(21.89,0.568),(21.95,0.579),(22.01,0.591),(22.05,0.564),(22.09,0.576),(22.13,0.587),(22.17,0.570),(22.19,0.582),
(20.80,0.529),(20.86,0.516),(21.03,0.538),(21.12,0.521),(21.21,0.533),(21.29,0.518),(21.38,0.540),(21.43,0.524),(21.52,0.512),(21.59,0.536),(21.67,0.520),(21.75,0.531),(21.79,0.515),(21.83,0.539),(21.87,0.523),(21.91,0.534),(21.98,0.518),(22.01,0.529),(22.06,0.541),(22.10,0.514),(22.13,0.526),(22.17,0.537),(22.19,0.520),
(20.63,0.479),(20.75,0.466),(20.98,0.488),(21.11,0.471),(21.23,0.483),(21.35,0.468),(21.40,0.490),(21.48,0.474),(21.58,0.462),(21.66,0.486),(21.72,0.470),(21.78,0.481),(21.83,0.465),(21.92,0.489),(21.98,0.473),(22.02,0.484),(22.05,0.468),(22.12,0.479),(22.17,0.491),
]

# ---------------- figure ----------------
FONT = "Liberation Sans, Arial, Helvetica, sans-serif"
FS = 58

black_all = (black_left + black_mid_low + black_mid_high + black_top
             + black_dense_high + black_dense_low + black_dense_extra)

fig = go.Figure()

fig.add_trace(go.Scatter(
    x=[p[0] for p in black_all], y=[p[1] for p in black_all],
    mode="markers",
    marker=dict(symbol="circle-open", size=6.5, color="black",
                line=dict(width=3, color="black")),
    showlegend=False, hoverinfo="skip",
))

fig.add_trace(go.Scatter(
    x=[p[0] for p in green_pts], y=[p[1] for p in green_pts],
    mode="markers",
    marker=dict(symbol="circle", size=26, color="#00ff00", line=dict(width=0)),
    showlegend=False, hoverinfo="skip",
))

fig.add_trace(go.Scatter(
    x=red_r, y=red_gr, mode="markers",
    marker=dict(symbol="circle", size=40, color="#ff0000", line=dict(width=0)),
    showlegend=False, hoverinfo="skip",
))

fig.add_trace(go.Scatter(
    x=fit_r, y=fit_gr, mode="lines",
    line=dict(color="#ff0000", width=2.4),
    showlegend=False, hoverinfo="skip",
))

axis_common = dict(
    showgrid=False, zeroline=False,
    showline=True, mirror=True, linecolor="black", linewidth=2,
    ticks="outside", ticklen=23, tickwidth=2, tickcolor="black",
    tickfont=dict(family=FONT, size=FS, color="black"),
)

fig.update_layout(
    width=2000, height=2000,
    margin=dict(l=237, r=134, t=237, b=315, pad=0),
    paper_bgcolor="white", plot_bgcolor="white",
    xaxis=dict(range=[16.8, 22.2], tickmode="array", tickvals=x_ticks,
               ticktext=[str(v) for v in x_ticks], ticklabelstandoff=15,
               **axis_common),
    yaxis=dict(range=[0.421, 2.582], tickmode="array", tickvals=y_ticks,
               ticktext=y_tick_text, tickangle=-90, ticklabelstandoff=35,
               **axis_common),
    annotations=[
        dict(text="r", xref="paper", yref="paper", x=0.5, y=-0.143,
             xanchor="center", yanchor="middle", showarrow=False,
             font=dict(family=FONT, size=FS, color="black")),
        dict(text="g-r", xref="paper", yref="paper", x=-0.1215, y=0.5,
             xanchor="center", yanchor="middle", showarrow=False, textangle=-90,
             font=dict(family=FONT, size=FS, color="black")),
    ],
)

fig.write_html("out.html")
